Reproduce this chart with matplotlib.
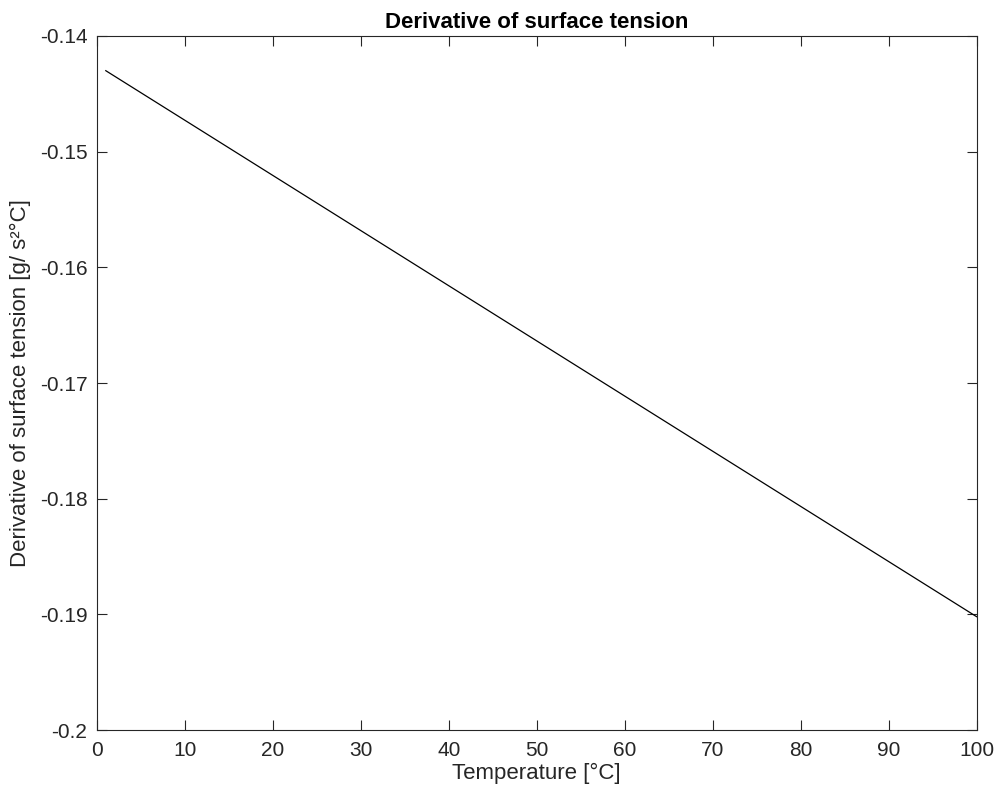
import matplotlib
matplotlib.use('Agg')
import matplotlib.pyplot as plt

# temperature range and derivative of surface tension (linear, so two ends suffice)
temperature = [1, 100]
dsigma_dT = [-0.1430, -0.1902]

x_ticks = [0, 10, 20, 30, 40, 50, 60, 70, 80, 90, 100]
y_ticks = [-0.2, -0.19, -0.18, -0.17, -0.16, -0.15, -0.14]
y_labels = ['-0.2', '-0.19', '-0.18', '-0.17', '-0.16', '-0.15', '-0.14']

plt.rcParams['font.family'] = ['Liberation Sans', 'DejaVu Sans']
plt.rcParams['font.size'] = 15

fig = plt.figure(figsize=(10.02, 7.98), dpi=100)
ax = fig.add_axes([0.0968, 0.0852, 0.8778, 0.8697])
ax.plot(temperature, dsigma_dT, color='black', linewidth=0.9)

ax.set_xlim(0, 100)
ax.set_ylim(-0.2, -0.14)
ax.set_xticks(x_ticks)
ax.set_yticks(y_ticks)
ax.set_yticklabels(y_labels)
ax.tick_params(direction='in', top=True, right=True, length=7, width=0.8,
               colors='#262626', labelcolor='#262626', labelsize=15)
ax.tick_params(axis='y', pad=7)
ax.tick_params(axis='x', pad=8)
for s in ax.spines.values():
    s.set_linewidth(0.8)
    s.set_color('#262626')

ax.set_xlabel('Temperature [°C]', color='#262626', fontsize=16, labelpad=2)
ax.set_ylabel('Derivative of surface tension [g/ s²°C]', color='#262626', fontsize=16, labelpad=6)
ax.set_title('Derivative of surface tension', fontweight='bold', fontsize=16, pad=6)

fig.savefig('out.png', dpi=100)
